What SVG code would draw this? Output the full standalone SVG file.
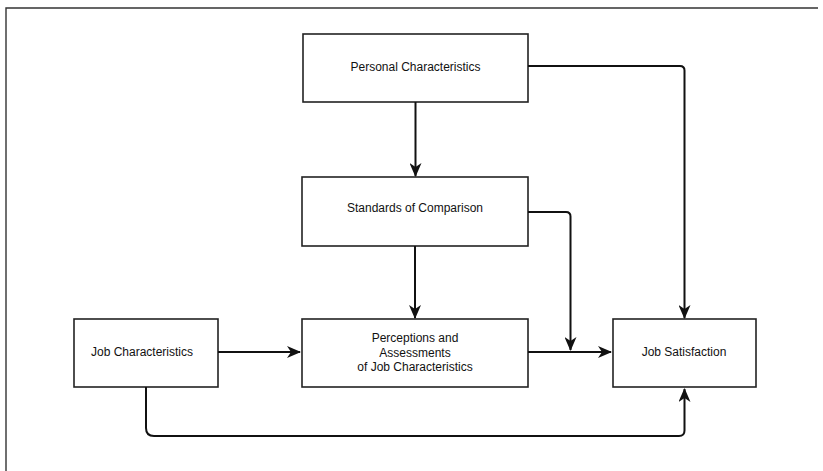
<svg xmlns="http://www.w3.org/2000/svg" width="823" height="471" viewBox="0 0 823 471">
<defs>
<marker id="ah" viewBox="0 0 14 12" refX="13" refY="6" markerWidth="14" markerHeight="12" markerUnits="userSpaceOnUse" orient="auto">
<path d="M0,0 L14,6 L0,12 L4,6 Z" fill="#111"/>
</marker>
<style>
.box{fill:#fff;stroke:#222;stroke-width:1.6}
.lbl{font-family:"Liberation Sans",Arial,sans-serif;font-size:12px;fill:#111;text-anchor:middle;dominant-baseline:central}
.con{fill:none;stroke:#111;stroke-width:2}
.frame{fill:none;stroke:#333;stroke-width:1.4}
</style>
</defs>
<rect width="823" height="471" fill="#fff"/>
<path class="frame" d="M6,471 L6,8 L818,8"/>
<g id="personal">
<rect class="box" x="303" y="34" width="225" height="68"/>
<text class="lbl" x="415.5" y="67">Personal Characteristics</text>
</g>
<g id="standards">
<rect class="box" x="302" y="177" width="226" height="69"/>
<text class="lbl" x="415" y="208">Standards of Comparison</text>
</g>
<g id="perceptions">
<rect class="box" x="302" y="319" width="226" height="68"/>
<text class="lbl" x="415" y="338">Perceptions and</text>
<text class="lbl" x="415" y="352.5">Assessments</text>
<text class="lbl" x="415" y="367">of Job Characteristics</text>
</g>
<g id="jobchar">
<rect class="box" x="74" y="319" width="144" height="68"/>
<text class="lbl" x="142" y="352">Job Characteristics</text>
</g>
<g id="jobsat">
<rect class="box" x="613" y="319" width="143" height="68"/>
<text class="lbl" x="684" y="352">Job Satisfaction</text>
</g>
<g id="connectors">
<path class="con" d="M415.5,102 L415.5,176" marker-end="url(#ah)"/>
<path class="con" d="M415,246 L415,318" marker-end="url(#ah)"/>
<path class="con" d="M528,66 L680,66 Q684.5,66 684.5,70.5 L684.5,318" marker-end="url(#ah)"/>
<path class="con" d="M528,212 L566,212 Q570.5,212 570.5,216.5 L570.5,350" marker-end="url(#ah)"/>
<path class="con" d="M528,352 L611,352" marker-end="url(#ah)"/>
<path class="con" d="M218,352 L300,352" marker-end="url(#ah)"/>
<path class="con" d="M146,387 L146,428 Q146,436 154,436 L679,436 Q684.5,436 684.5,430.5 L684.5,389" marker-end="url(#ah)"/>
</g>
</svg>
